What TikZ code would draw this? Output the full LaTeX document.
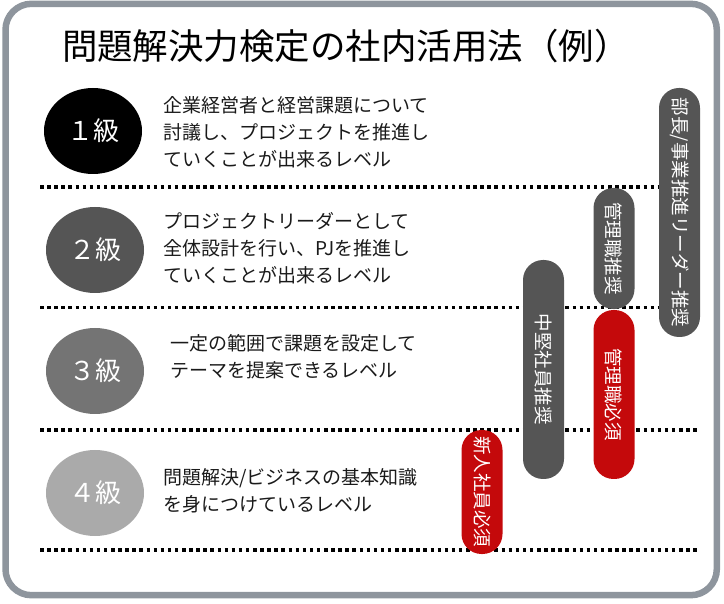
\documentclass[tikz,border=0pt]{standalone}
\usepackage{fontspec}
\setmainfont{Noto Sans CJK JP}
\definecolor{frame}{HTML}{8E959D}
\definecolor{pillgray}{HTML}{555555}
\definecolor{pillred}{HTML}{C4090B}
\definecolor{lv2}{HTML}{555555}
\definecolor{lv3}{HTML}{747474}
\definecolor{lv4}{HTML}{AAAAAA}
\definecolor{txt}{HTML}{1A1A1A}
\tikzset{
  lvl/.style={ellipse, minimum width=98pt, minimum height=86pt, inner sep=0pt, text=white, font=\fontsize{26}{26}\selectfont},
  desc/.style={anchor=west, align=left, inner sep=0pt, text=txt, font=\fontsize{19}{27}\selectfont},
  pill/.style={rotate=-90, rounded corners=20pt, inner sep=0pt, text=white, minimum height=41pt, font=\fontsize{18.5}{18.5}\selectfont},
  dotline/.style={line width=3.2pt, dash pattern=on 3.5pt off 3.6pt, black},
}
\usetikzlibrary{shapes.geometric}
\begin{document}
\begin{tikzpicture}[x=1pt,y=-1pt]
\useasboundingbox (0,0) rectangle (724,604);
% frame
\draw[frame, line width=6.5pt, rounded corners=26pt] (5.5,3.8) rectangle (716.8,595.2);
% title
\node[inner sep=0pt, text=black, font=\fontsize{35.5}{35.5}\selectfont] (title) at (346,46) {問題解決力検定の社内活用法（例）};
% dotted lines
\coordinate (d1a) at (40,187); \coordinate (d1b) at (700,187);
\coordinate (d2a) at (40,307.5); \coordinate (d2b) at (700,307.5);
\coordinate (d3a) at (40,430); \coordinate (d3b) at (700,430);
\coordinate (d4a) at (40,550); \coordinate (d4b) at (700,550);
\draw[dotline] (d1a) -- (d1b);
\draw[dotline] (d2a) -- (d2b);
\draw[dotline] (d3a) -- (d3b);
\draw[dotline] (d4a) -- (d4b);
% levels
\node[lvl, fill=black] (l1) at (93,131) {１級};
\node[lvl, fill=lv2] (l2) at (95,250) {２級};
\node[lvl, fill=lv3] (l3) at (95,371) {３級};
\node[lvl, fill=lv4] (l4) at (95,493) {４級};
% descriptions
\node[desc] (t1) at (163,132) {企業経営者と経営課題について\\討議し、プロジェクトを推進し\\ていくことが出来るレベル};
\node[desc] (t2) at (163,248) {プロジェクトリーダーとして\\全体設計を行い、PJを推進し\\ていくことが出来るレベル};
\node[desc] (t3) at (170,357) {一定の範囲で課題を設定して\\テーマを提案できるレベル};
\node[desc] (t4) at (163,491) {問題解決/ビジネスの基本知識\\を身につけているレベル};
% pills
\node[pill, fill=pillgray, minimum width=249pt] (p1) at (679.5,212.5) {部長/事業推進リーダー推奨};
\node[pill, fill=pillgray, minimum width=121pt] (p2) at (614,248.5) {管理職推奨};
\node[pill, fill=pillred, minimum width=169pt] (p3) at (614,394.5) {管理職必須};
\node[pill, fill=pillgray, minimum width=219pt] (p4) at (543.5,369.5) {中堅社員推奨};
\node[pill, fill=pillred, minimum width=124pt] (p5) at (482,492) {新人社員必須};
\end{tikzpicture}
\end{document}
